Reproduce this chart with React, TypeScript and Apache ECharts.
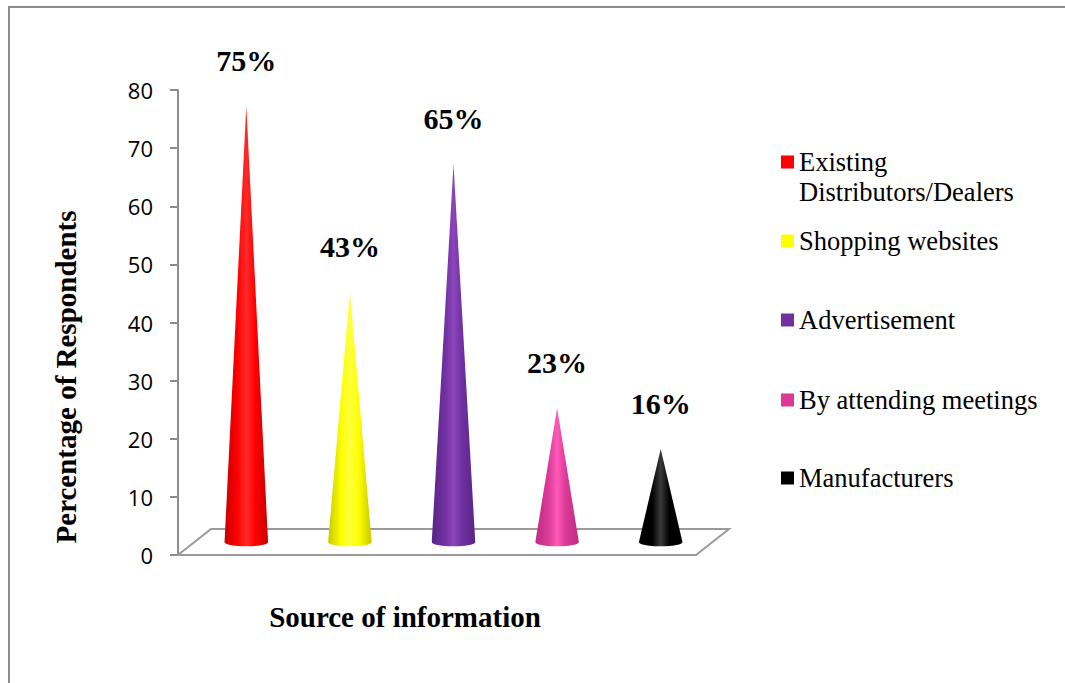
import React, { useEffect, useRef } from "react";
import * as echarts from "echarts";

const categories = [
  "Existing Distributors/Dealers",
  "Shopping websites",
  "Advertisement",
  "By attending meetings",
  "Manufacturers",
];
const legendLabels = [
  "\nExisting\nDistributors/Dealers",
  "Shopping websites",
  "Advertisement",
  "By attending meetings",
  "Manufacturers",
];
const values = [75, 43, 65, 23, 16];
const colors = ["#FF0000", "#FFFF00", "#7030A0", "#DA3A96", "#000000"];
const shadeDark = ["#C80000", "#C8C800", "#5A2585", "#C02C80", "#000000"];
const shadeLight = ["#FF2A2A", "#FFFF40", "#8A45BA", "#FF5AB8", "#3A3A3A"];
const yMin = 0;
const yMax = 80;
const yInterval = 10;

const DEPTH_X = 33;
const DEPTH_Y = 26;
const SERIF = "'Liberation Serif', 'Times New Roman', serif";

function coneRenderer(idx: number) {
  return (params: any, api: any) => {
    const i = api.value(0);
    const v = api.value(1);
    const base = api.coord([i, 0]);
    const top = api.coord([i, v]);
    const band = api.size([1, 0])[0];
    const cx = base[0] + DEPTH_X / 2;
    const by = base[1] - DEPTH_Y / 2;
    const ty = top[1] - DEPTH_Y / 2;
    const r = band * 0.21;
    const ry = r * 0.2;
    const pts: number[][] = [[cx, ty]];
    const n = 24;
    for (let k = 0; k <= n; k++) {
      const t = (Math.PI * k) / n;
      pts.push([cx + r * Math.cos(t), by + ry * Math.sin(t)]);
    }
    return {
      type: "group",
      children: [
        {
          type: "polygon",
          shape: { points: pts },
          style: {
            fill: new echarts.graphic.LinearGradient(0, 0, 1, 0, [
              { offset: 0, color: shadeDark[idx] },
              { offset: 0.3, color: colors[idx] },
              { offset: 0.5, color: shadeLight[idx] },
              { offset: 0.7, color: colors[idx] },
              { offset: 1, color: shadeDark[idx] },
            ]),
          },
        },
        {
          type: "text",
          x: cx,
          y: ty - 46,
          style: {
            text: v + "%",
            fill: "#000",
            font: "bold 30px " + SERIF,
            textAlign: "center",
            textVerticalAlign: "middle",
          },
        },
      ],
    };
  };
}

function floorRenderer(params: any, api: any) {
  const cs = params.coordSys;
  const x0 = cs.x;
  const y0 = cs.y + cs.height;
  const x1 = cs.x + cs.width;
  return {
    type: "polygon",
    shape: {
      points: [
        [x0, y0],
        [x0 + DEPTH_X, y0 - DEPTH_Y],
        [x1 + DEPTH_X, y0 - DEPTH_Y],
        [x1, y0],
      ],
    },
    style: { fill: "none", stroke: "#9A9A9A", lineWidth: 2 },
  };
}

const legendTops = [117, 226, 305, 385, 463];

export default function App() {
  const ref = useRef<HTMLDivElement>(null);
  useEffect(() => {
    document.body.style.margin = "0";
    const chart = echarts.init(ref.current!, null, { renderer: "svg" });
    const series: any[] = [
      {
        type: "custom",
        name: "floor",
        renderItem: floorRenderer,
        data: [[0, 0]],
        silent: true,
        z: 1,
      },
    ];
    categories.forEach((c, i) => {
      series.push({
        type: "custom",
        name: c,
        renderItem: coneRenderer(i),
        itemStyle: { color: colors[i] },
        data: [[i, values[i]]],
        encode: { x: 0, y: 1 },
        z: 3,
      });
    });
    const legends = categories.map((c, i) => ({
      data: [c],
      left: 781,
      top: legendTops[i],
      padding: 0,
      itemWidth: 13,
      itemHeight: 13,
      icon: "rect",
      selectedMode: false,
      formatter: () => legendLabels[i],
      textStyle: {
        fontFamily: SERIF,
        fontSize: 26.5,
        color: "#000",
        lineHeight: 30,
      },
    }));
    chart.setOption({
      animation: false,
      backgroundColor: "#fff",
      grid: { left: 178, top: 90, width: 518, height: 465 },
      xAxis: {
        type: "category",
        data: categories,
        axisLine: { show: false },
        axisTick: { show: false },
        axisLabel: { show: false },
        splitLine: { show: false },
      },
      yAxis: {
        type: "value",
        min: yMin,
        max: yMax,
        interval: yInterval,
        axisLine: { show: true, lineStyle: { color: "#8C8C8C", width: 2 } },
        axisTick: { show: true, length: 8, lineStyle: { color: "#8C8C8C", width: 2 } },
        axisLabel: {
          margin: 25,
          color: "#000",
          fontSize: 22,
          fontFamily: "'Open Sans', sans-serif",
        },
        splitLine: { show: false },
      },
      legend: legends,
      series,
      graphic: [
        {
          type: "rect",
          shape: { x: 9, y: 7, width: 1100, height: 700 },
          style: { fill: "none", stroke: "#8C8C8C", lineWidth: 2 },
          silent: true,
        },
        {
          type: "text",
          x: 66,
          y: 377,
          rotation: Math.PI / 2,
          style: {
            text: "Percentage of Respondents",
            font: "bold 29px " + SERIF,
            fill: "#000",
            textAlign: "center",
            textVerticalAlign: "middle",
          },
        },
        {
          type: "text",
          x: 405,
          y: 617,
          style: {
            text: "Source of information",
            font: "bold 29px " + SERIF,
            fill: "#000",
            textAlign: "center",
            textVerticalAlign: "middle",
          },
        },
      ],
    });
    return () => chart.dispose();
  }, []);
  return <div ref={ref} style={{ width: 1065, height: 683 }} />;
}
